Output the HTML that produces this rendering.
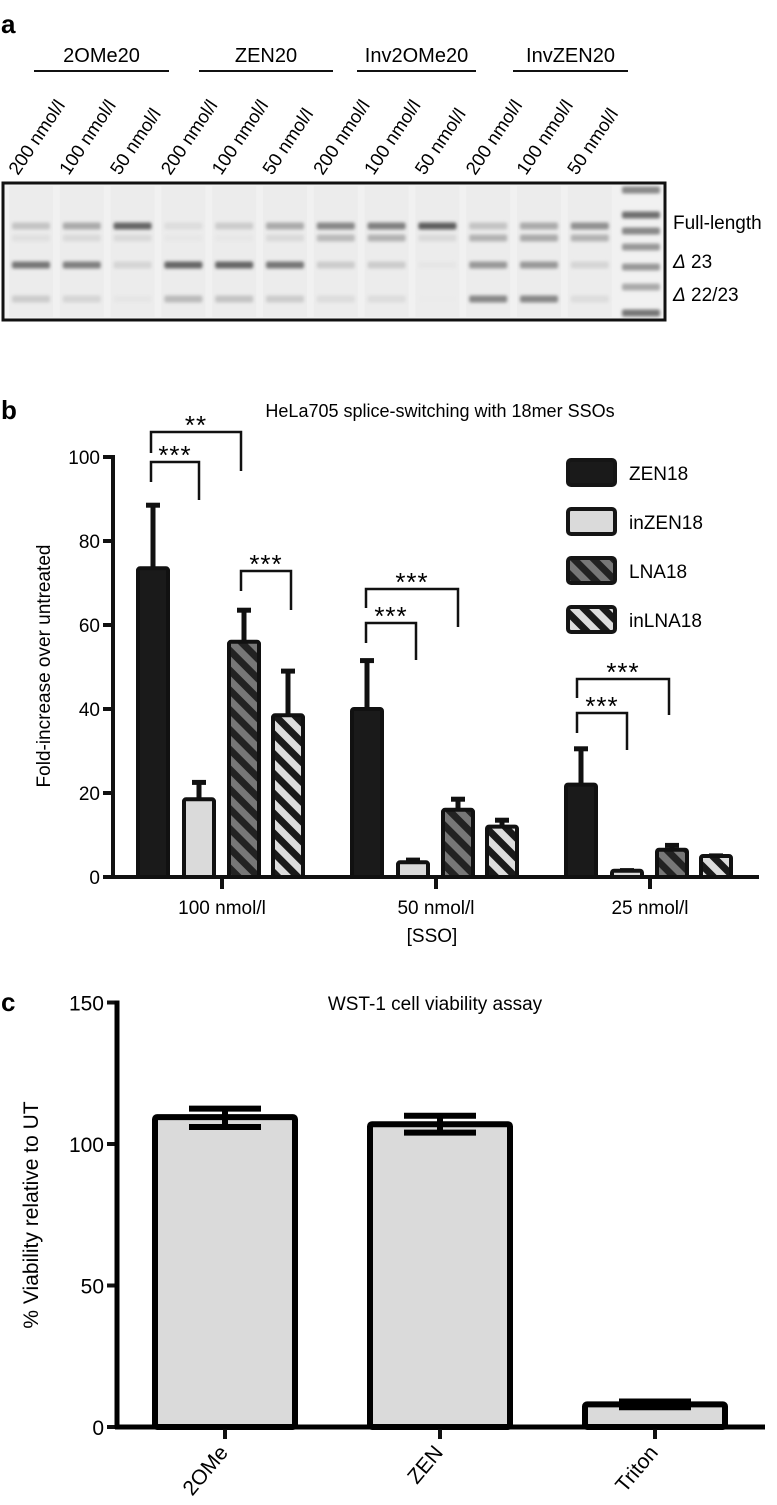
<!DOCTYPE html>
<html><head><meta charset="utf-8"><style>
html,body{margin:0;padding:0;background:#fff;}
svg{display:block;font-family:"Liberation Sans",sans-serif;}
</style></head><body>
<svg id="fig" width="777" height="1505" viewBox="0 0 777 1505" xmlns="http://www.w3.org/2000/svg">
<defs>
<pattern id="hatchLNA" patternUnits="userSpaceOnUse" width="14" height="14" patternTransform="rotate(-45)">
<rect width="14" height="14" fill="#222"/><rect x="0" y="0" width="7" height="14" fill="#777"/>
</pattern>
<pattern id="hatchInLNA" patternUnits="userSpaceOnUse" width="14" height="14" patternTransform="rotate(-45)">
<rect width="14" height="14" fill="#1a1a1a"/><rect x="0" y="0" width="7" height="14" fill="#ddd"/>
</pattern>
<filter id="blur" x="-20%" y="-100%" width="140%" height="300%"><feGaussianBlur stdDeviation="1.6"/></filter>
</defs>
<g id="panelA"></g>
<g id="panelB"></g>
<g id="panelC"></g>
</svg>
<script>
// ---------- Panel a data ----------
const gelGroups = ["2OMe20","ZEN20","Inv2OMe20","InvZEN20"];
const laneLabels = ["200 nmol/l","100 nmol/l","50 nmol/l","200 nmol/l","100 nmol/l","50 nmol/l","200 nmol/l","100 nmol/l","50 nmol/l","200 nmol/l","100 nmol/l","50 nmol/l"];
const bandFull = [0.25,0.4,0.8,0.1,0.2,0.4,0.6,0.65,0.85,0.25,0.4,0.55];
const bandSecond = [0.08,0.12,0.12,0.04,0.04,0.12,0.3,0.35,0.12,0.35,0.4,0.35];
const bandD23 = [0.7,0.65,0.15,0.8,0.8,0.7,0.2,0.2,0.05,0.5,0.5,0.15];
const bandD2223 = [0.2,0.15,0.05,0.3,0.25,0.2,0.1,0.1,0.02,0.6,0.6,0.1];
const ladderBands = [0.6,0.75,0.6,0.5,0.5,0.4,0.7];

// ---------- Panel b data ----------
const bCategories = ["100 nmol/l","50 nmol/l","25 nmol/l"];
const bSeries = ["ZEN18","inZEN18","LNA18","inLNA18"];
const zen18 = [73.5,40,22];
const zen18Err = [89,52,31];
const inZen18 = [18.5,3.5,1.5];
const inZen18Err = [23,4.5,2];
const lna18 = [56,16,6.5];
const lna18Err = [64,19,8];
const inLna18 = [38.5,12,5];
const inLna18Err = [49.5,14,5.5];
const bTicks = [0,20,40,60,80,100];

// ---------- Panel c data ----------
const cCategories = ["2OMe","ZEN","Triton"];
const cValues = [109.5,107,8];
const cErrHigh = [112.5,110,9];
const cErrLow = [106,104,7];
const cTicks = [0,50,100,150];

const NS="http://www.w3.org/2000/svg";
function mk(tag, attrs, parent){const e=document.createElementNS(NS,tag);for(const k in attrs)e.setAttribute(k,attrs[k]);parent.appendChild(e);return e;}
function txt(s, attrs, parent){const e=mk('text',attrs,parent);e.textContent=s;return e;}

// ===== Panel a =====
const A=document.getElementById('panelA');
let t=txt('a',{x:1,y:33,'font-size':26,'font-weight':'bold'},A);


const grpLine=[[34,169],[199,333],[357,476],[513,628]];
gelGroups.forEach((g,i)=>{
  const [x1,x2]=grpLine[i];
  const l=mk('line',{x1:x1,x2:x2,y1:71,y2:71,stroke:'#111','stroke-width':2},A);
  
  
  const tt=txt(g,{x:(x1+x2)/2,y:62,'font-size':20,'text-anchor':'middle'},A);
  
  
});
function laneX(i){return 31+i*50.8;}
laneLabels.forEach((s,i)=>{
  const x=laneX(i)-13, y=176;
  const tt=txt(s,{x:x,y:y,'font-size':18.5,transform:`rotate(-56 ${x} ${y})`},A);
  
  
});
let fr=mk('rect',{x:3,y:183,width:662,height:137,fill:'#f1f1f1',stroke:'#111','stroke-width':3},A);


const bandRows=[[bandFull,226],[bandSecond,238],[bandD23,265],[bandD2223,299]];
function shade(v){const c=Math.round(238-v*170);return `rgb(${c},${c},${c})`;}
for(let i=0;i<12;i++){
  const ln=mk('rect',{x:laneX(i)-22,y:186,width:44,height:131,fill:'#e8e8e8',opacity:0.5},A);
  
  
  bandRows.forEach(([arr,y])=>{
    const b=mk('rect',{x:laneX(i)-19,y:y-3.5,width:38,height:7,rx:2,fill:shade(arr[i]),filter:'url(#blur)'},A);
    
    
  });
}
const ladderY=[190,215,231,247,267,287,313];
ladderBands.forEach((v,i)=>{
  const b=mk('rect',{x:622,y:ladderY[i]-3.5,width:38,height:7,rx:2,fill:shade(v),filter:'url(#blur)'},A);
  
  
});
[["Full-length",229,false],["\u0394 23",268,true],["\u0394 22/23",301,true]].forEach(([s,y,d])=>{
  const tt=txt('',{x:673,y:y,'font-size':19},A);
  
  
  if(d){const s1=mk('tspan',{'font-style':'italic'},tt);s1.textContent='\u0394';const s2=mk('tspan',{},tt);s2.textContent=s.slice(1);}
  else tt.textContent=s;
});

// ===== Panel b =====
const B=document.getElementById('panelB');
const bY0=877, bPx=4.2, bAxisX=113, bXEnd=759;
const by=v=>bY0-v*bPx;
const groupCenter=i=>222+i*214;
const offs=[-69,-23,22,66];
const bw=30;
t=txt('b',{x:1,y:419,'font-size':26,'font-weight':'bold'},B);


t=txt('HeLa705 splice-switching with 18mer SSOs',{x:440,y:417,'font-size':18,'text-anchor':'middle'},B);


t=txt('Fold-increase over untreated',{x:50,y:666,'font-size':19,'text-anchor':'middle',transform:'rotate(-90 50 666)'},B);


bTicks.forEach(v=>{
  const l=mk('line',{x1:bAxisX-10,x2:bAxisX,y1:by(v),y2:by(v),stroke:'#111','stroke-width':4},B);
  
  
  const tt=txt(String(v),{x:bAxisX-13,y:by(v)+7,'font-size':19,'text-anchor':'end'},B);
  
  
});
const seriesVals=[zen18,inZen18,lna18,inLna18];
const seriesErr=[zen18Err,inZen18Err,lna18Err,inLna18Err];
const fills=['#1a1a1a','#dadada','url(#hatchLNA)','url(#hatchInLNA)'];
bCategories.forEach((c,ci)=>{
  seriesVals.forEach((arr,si)=>{
    const cx=groupCenter(ci)+offs[si];
    const e=mk('line',{x1:cx,x2:cx,y1:by(arr[ci]),y2:by(seriesErr[si][ci]),stroke:'#111','stroke-width':5},B);
    
    
    const cap=mk('line',{x1:cx-7,x2:cx+7,y1:by(seriesErr[si][ci])+2,y2:by(seriesErr[si][ci])+2,stroke:'#111','stroke-width':5},B);
    
    
    const r=mk('rect',{x:cx-bw/2,y:by(arr[ci]),width:bw,height:arr[ci]*bPx,fill:fills[si],stroke:'#111','stroke-width':4,rx:2},B);
    
    
  });
  const tk=mk('line',{x1:groupCenter(ci),x2:groupCenter(ci),y1:bY0,y2:bY0+12,stroke:'#111','stroke-width':4},B);
  
  
  const tl=txt(c,{x:groupCenter(ci),y:914,'font-size':19,'text-anchor':'middle'},B);
  
  
});
let ax=mk('line',{x1:bAxisX,x2:bAxisX,y1:by(100)-2,y2:bY0+2,stroke:'#111','stroke-width':4},B);


ax=mk('line',{x1:bAxisX-2,x2:bXEnd,y1:bY0,y2:bY0,stroke:'#111','stroke-width':4},B);


t=txt('[SSO]',{x:432,y:942,'font-size':19,'text-anchor':'middle'},B);


// significance brackets
function bracket(x1,x2,yTop,yL,yR,label){
  const p=mk('path',{d:`M${x1} ${yL} V${yTop} H${x2} V${yR}`,fill:'none',stroke:'#111','stroke-width':2.5},B);
  
  
  const tt=txt(label,{x:(x1+x2)/2,y:yTop+2,'font-size':26,'text-anchor':'middle','letter-spacing':'1'},B);
  
  
}
bracket(151,241,432,453,471,'**');
bracket(151,199,462,482,500,'***');
bracket(241,291,571,591,610,'***');
bracket(366,458,589,608,627,'***');
bracket(366,416,623,643,660,'***');
bracket(577,669,679,698,715,'***');
bracket(577,627,713,733,750,'***');
// legend
const legFills=['#1a1a1a','#dadada','url(#hatchLNA)','url(#hatchInLNA)'];
bSeries.forEach((s,i)=>{
  const y=460+i*49;
  const r=mk('rect',{x:568,y:y,width:47,height:25,rx:3,fill:legFills[i],stroke:'#151515','stroke-width':4},B);
  
  
  const tt=txt(s,{x:629,y:y+20,'font-size':19},B);
  
  
});

// ===== Panel c =====
const C=document.getElementById('panelC');
const cY0=1427, cPx=2.83, cAxisX=117, cXEnd=765;
const cy=v=>cY0-v*cPx;
const cCenter=i=>225+i*215;
const cbw=140;
t=txt('c',{x:1,y:1011,'font-size':26,'font-weight':'bold'},C);


t=txt('WST-1 cell viability assay',{x:435,y:1010,'font-size':19,'text-anchor':'middle'},C);


t=txt('% Viability relative to UT',{x:38,y:1215,'font-size':21,'text-anchor':'middle',transform:'rotate(-90 38 1215)'},C);


cTicks.forEach(v=>{
  const l=mk('line',{x1:cAxisX-10,x2:cAxisX,y1:cy(v),y2:cy(v),stroke:'#111','stroke-width':4},C);
  
  
  const tt=txt(String(v),{x:cAxisX-13,y:cy(v)+8,'font-size':21,'text-anchor':'end'},C);
  
  
});
cCategories.forEach((c,i)=>{
  const cx=cCenter(i);
  const r=mk('rect',{x:cx-cbw/2,y:cy(cValues[i]),width:cbw,height:cValues[i]*cPx,fill:'#dadada',stroke:'#000','stroke-width':6,rx:2},C);
  
  
  const e=mk('line',{x1:cx,x2:cx,y1:cy(cErrHigh[i]),y2:cy(cErrLow[i]),stroke:'#000','stroke-width':6},C);
  
  
  [cErrHigh[i],cErrLow[i]].forEach(v=>{
    const cap=mk('line',{x1:cx-36,x2:cx+36,y1:cy(v),y2:cy(v),stroke:'#000','stroke-width':6},C);
    
    
  });
  const tk=mk('line',{x1:cx,x2:cx,y1:cY0,y2:cY0+12,stroke:'#111','stroke-width':4},C);
  
  
  const lx=cx+4, ly=cY0+26;
  const tl=txt(c,{x:lx,y:ly,'font-size':21,'text-anchor':'end',transform:`rotate(-50 ${lx} ${ly})`},C);
  
  
});
ax=mk('line',{x1:cAxisX,x2:cAxisX,y1:cy(150)-2,y2:cY0+2,stroke:'#000','stroke-width':5},C);


ax=mk('line',{x1:cAxisX-2,x2:cXEnd,y1:cY0,y2:cY0,stroke:'#000','stroke-width':5},C);


</script>
</body></html>
